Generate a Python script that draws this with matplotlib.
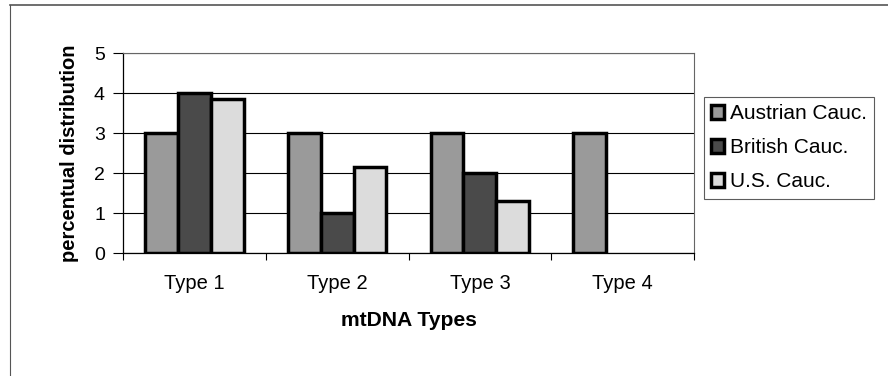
import matplotlib
matplotlib.use('agg')
import matplotlib.pyplot as plt
import numpy as np

plt.rcParams['font.family'] = ['Liberation Sans', 'DejaVu Sans']

categories = ["Type 1", "Type 2", "Type 3", "Type 4"]
austrian = [3, 3, 3, 3]
british = [4, 1, 2, np.nan]
us = [3.85, 2.15, 1.3, np.nan]
series_names = ["Austrian Cauc.", "British Cauc.", "U.S. Cauc."]
yticks = [0, 1, 2, 3, 4, 5]

fills = ['#9a9a9a', '#4a4a4a', '#dcdcdc']

fig = plt.figure(figsize=(8.88, 3.76), dpi=100)
# outer chart frame (only top/left visible in the original)
fig.add_artist(plt.Line2D([10/888, 10/888], [0, 1 - 5/376], color='#555555', lw=0.8))
fig.add_artist(plt.Line2D([10/888, 1], [1 - 5/376, 1 - 5/376], color='#555555', lw=1.2))

ax = fig.add_axes([123/888, 123/376, 571/888, 200/376])

x = np.arange(len(categories))
w = 0.23
bars = []
for i, (vals, col) in enumerate(zip([austrian, british, us], fills)):
    b = ax.bar(x + (i - 1) * w, vals, w, color=col, edgecolor='black',
               linewidth=2.5, label=series_names[i], zorder=3)
    bars.append(b)

ax.set_xlim(-0.5, 3.5)
ax.set_ylim(0, 5)
ax.set_yticks(yticks)
ax.set_yticklabels([str(t) for t in yticks], fontsize=14)
ax.yaxis.grid(True, color='black', linewidth=0.8, zorder=0)
ax.set_axisbelow(True)

ax.set_xticks(x)
ax.set_xticklabels(categories, fontsize=14.5)
ax.set_xticks(np.arange(len(categories) + 1) - 0.5, minor=True)
ax.tick_params(axis='x', which='major', length=0, pad=15)
ax.tick_params(axis='x', which='minor', length=5, width=0.8, direction='out')
ax.tick_params(axis='y', length=7, width=0.8, direction='out', pad=6)

for s in ['left', 'bottom']:
    ax.spines[s].set_linewidth(0.9)
for s in ['top', 'right']:
    ax.spines[s].set_color('#666666')
    ax.spines[s].set_linewidth(0.8)

ax.set_ylabel("percentual distribution", fontsize=14.5, fontweight='bold', labelpad=11)
ax.set_xlabel("mtDNA Types", fontsize=15.2, fontweight='bold', labelpad=13)

leg = fig.legend(handles=bars, labels=series_names, loc='upper left',
                 bbox_to_anchor=(704/888, 1 - 97/376), fontsize=15,
                 frameon=True, fancybox=False, handlelength=0.6,
                 handleheight=0.6, handletextpad=0.3, labelspacing=0.72,
                 borderpad=0.35, borderaxespad=0)
leg.get_frame().set_edgecolor('#333333')
leg.get_frame().set_linewidth(0.8)

plt.savefig("out.png", dpi=100)
